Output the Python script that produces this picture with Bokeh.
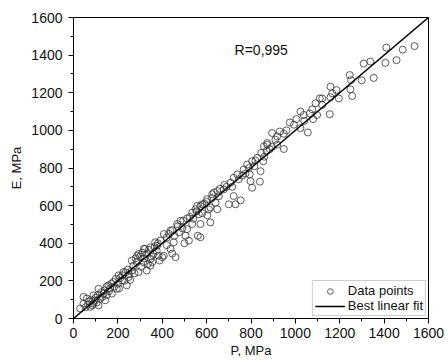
from bokeh.plotting import figure
from bokeh.models import Range1d, SingleIntervalTicker, Label, Legend, LegendItem
from bokeh.embed import file_html
from bokeh.resources import INLINE

# measured data points (P, E) in MPa
P = [30, 45, 45, 60, 75, 90, 90, 113, 113, 135, 143, 158, 173, 180, 195, 203, 218, 225, 240, 248,
     263, 263, 285, 293, 293, 315, 323, 330, 346, 360, 368, 383, 388,
     55, 65, 70, 80, 85, 95, 100, 105, 110, 120, 125, 130, 140, 150, 150, 160, 165, 170, 185, 190,
     200, 205, 210, 220, 230, 235, 245, 250, 255, 270, 275, 280, 300, 305, 310, 320, 335, 340, 350,
     355, 365, 375, 380,
     287, 317, 332, 347, 347, 377, 392, 407, 407, 437, 437, 452, 460, 467, 475, 482, 505, 512, 512,
     520, 535, 535, 550, 565, 572, 572, 603, 617, 617, 632, 640, 648,
     400, 420, 445, 500, 560, 572,
     420, 430, 445, 455, 470, 490, 495, 525, 540, 555, 580, 590, 600, 610, 625, 655, 660,
     557, 580, 602, 625, 648, 677, 700, 708, 722, 722, 730, 738, 753, 767, 783, 794, 798, 805, 805,
     828, 840, 843, 846, 855, 873, 895, 910,
     680, 690, 715, 745, 760, 775, 790, 815, 820, 860, 870, 885,
     858, 873, 895, 918, 918, 930, 948, 948, 975, 993, 1023, 1023, 1038, 1056, 1076, 1091, 1098,
     1110, 1121, 1155,
     960, 1005, 1040, 1065, 1080,
     1121, 1158, 1158, 1166, 1185, 1196, 1245, 1248, 1251, 1256, 1299, 1308, 1338, 1353, 1406,
     1410, 1456, 1484, 1537]
E = [53, 79, 115, 106, 62, 79, 123, 70, 158, 132, 97, 176, 132, 194, 158, 229, 202, 247, 176, 220,
     255, 308, 299, 247, 343, 299, 370, 255, 281, 343, 405, 334, 308,
     60, 75, 90, 100, 70, 95, 110, 85, 125, 105, 140, 115, 150, 125, 170, 145, 160, 185, 170, 210,
     185, 160, 215, 230, 200, 245, 260, 235, 205, 280, 240, 320, 330, 275, 350, 320, 290, 365, 330,
     300, 380, 360, 400,
     334, 370, 343, 317, 378, 387, 414, 449, 334, 466, 370, 405, 326, 502, 458, 519, 440, 532, 475,
     414, 563, 502, 581, 554, 598, 502, 549, 590, 511, 669, 616, 581,
     326, 390, 345, 400, 440, 432,
     430, 450, 470, 440, 490, 480, 520, 540, 530, 570, 560, 610, 620, 580, 640, 650, 690,
     598, 607, 634, 660, 677, 686, 607, 722, 748, 651, 607, 766, 628, 792, 818, 766, 730, 836, 695,
     854, 727, 783, 880, 836, 924, 986, 950,
     710, 700, 700, 740, 760, 770, 800, 810, 840, 860, 890, 900,
     915, 933, 912, 924, 968, 994, 982, 901, 1042, 1030, 1100, 1012, 1082, 989, 1112, 1144, 1082,
     1170, 1135, 1086,
     1000, 1060, 1050, 1090, 1060,
     1170, 1232, 1176, 1197, 1214, 1170, 1294, 1218, 1267, 1183, 1266, 1355, 1366, 1279, 1359,
     1440, 1373, 1429, 1448]

# best linear fit E = slope * P + intercept
fit_slope = 1.0
fit_intercept = 0.0
fit_P = [0, 1600]
fit_E = [fit_slope * v + fit_intercept for v in fit_P]

r_text = "R=0,995"
tick_interval = 200
x_label = "P, MPa"
y_label = "E, MPa"

FONT = "Liberation Sans"

p = figure(width=448, height=360, output_backend="svg", toolbar_location=None,
           x_range=Range1d(0, 1600), y_range=Range1d(0, 1600),
           min_border_left=73, min_border_right=20, min_border_top=17, min_border_bottom=40)
p.grid.visible = False
p.outline_line_color = "black"
p.outline_line_width = 1
p.background_fill_color = "white"
p.border_fill_color = "white"

p.xaxis.ticker = SingleIntervalTicker(interval=tick_interval, num_minor_ticks=2)
p.yaxis.ticker = SingleIntervalTicker(interval=tick_interval, num_minor_ticks=2)
for ax in (p.xaxis[0], p.yaxis[0]):
    ax.axis_line_color = "black"
    ax.major_tick_line_color = "black"
    ax.minor_tick_line_color = "black"
    ax.major_tick_out = 5
    ax.major_tick_in = 0
    ax.minor_tick_out = 3
    ax.minor_tick_in = 0
    ax.major_label_text_font = FONT
    ax.major_label_text_font_size = "14px"
    ax.major_label_text_color = "#111111"
    ax.axis_label_text_font = FONT
    ax.axis_label_text_font_size = "13px"
    ax.axis_label_text_font_style = "normal"
    ax.axis_label_text_color = "#111111"
p.xaxis.axis_label = x_label
p.yaxis.axis_label = y_label
p.xaxis.major_label_standoff = 4
p.xaxis.axis_label_standoff = 2
p.yaxis.major_label_standoff = 6
p.yaxis.axis_label_standoff = 4

pts = p.scatter(P, E, marker="circle", size=7, fill_color=None,
                line_color="#333333", line_width=0.8)
ln = p.line(fit_P, fit_E, line_color="black", line_width=1.5)

p.add_layout(Label(x=726, y=1425, text=r_text, text_font=FONT, text_font_size="14px",
                   text_baseline="middle", text_color="#111111"))

legend = Legend(items=[LegendItem(label="Data points", renderers=[pts]),
                       LegendItem(label="Best linear fit", renderers=[ln])],
                location="bottom_right")
legend.label_text_font = FONT
legend.label_text_font_size = "13px"
legend.label_text_color = "#111111"
legend.glyph_width = 30
legend.glyph_height = 14
legend.label_height = 14
legend.label_standoff = 3
legend.spacing = 0
legend.padding = 2
legend.margin = 2
legend.border_line_color = "#999999"
legend.border_line_width = 1
legend.background_fill_alpha = 1
p.add_layout(legend, "center")

open("out.html", "w").write(file_html(p, INLINE))
